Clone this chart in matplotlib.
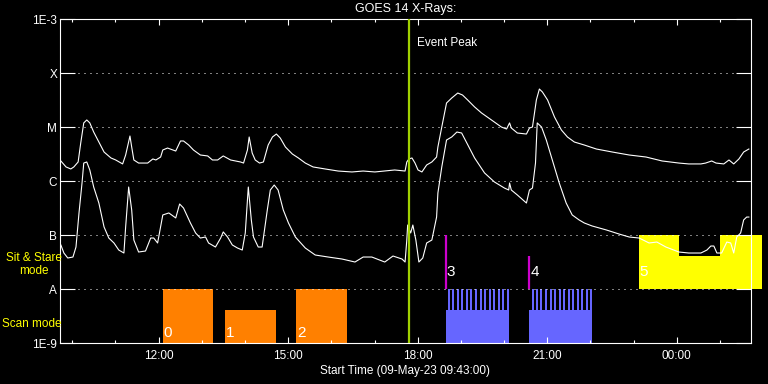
import matplotlib

matplotlib.use("Agg")
import matplotlib.dates as mdates
import matplotlib.pyplot as plt
import numpy as np
import pandas as pd
from matplotlib.ticker import FixedLocator, FixedFormatter, NullLocator

plt.rcParams["font.family"] = ["Liberation Sans", "DejaVu Sans"]

start_time = pd.Timestamp("2023-05-09 09:43:00")
span_hours = 16.0
event_peak = pd.Timestamp("2023-05-09 17:48:00")

# GOES 14 long channel (upper curve): hours after start, flux in W/m^2
long_hours = [0.02, 0.14, 0.25, 0.32, 0.42, 0.48, 0.55, 0.62, 0.69, 0.78, 0.90, 1.02,
              1.18, 1.29, 1.45, 1.52, 1.62, 1.66, 1.71, 1.82, 2.03, 2.15, 2.22, 2.33,
              2.38, 2.49, 2.68, 2.79, 2.86, 2.98, 3.09, 3.25, 3.42, 3.53, 3.65, 3.78,
              3.95, 4.18, 4.25, 4.34, 4.38, 4.45, 4.52, 4.62, 4.71, 4.82, 4.92, 5.01,
              5.10, 5.22, 5.38, 5.52, 5.68, 5.86, 6.14, 6.44, 6.76, 7.02, 7.29, 7.75,
              7.99, 8.03, 8.08, 8.15, 8.22, 8.29, 8.38, 8.49, 8.61, 8.72, 8.75, 8.84,
              8.95, 9.07, 9.21, 9.32, 9.44, 9.60, 9.76, 9.99, 10.22, 10.34, 10.41, 10.45,
              10.59, 10.80, 10.87, 10.94, 11.03, 11.10, 11.17, 11.29, 11.45, 11.61, 11.75,
              11.91, 12.14, 12.42, 12.79, 13.18, 13.57, 13.94, 14.33, 14.56, 14.84, 14.95,
              15.09, 15.19, 15.37, 15.49, 15.60, 15.72, 15.83, 15.95]
long_flux = [2.35e-6, 1.82e-6, 1.67e-6, 1.82e-6, 2.25e-6, 5.05e-6, 1.19e-5, 1.35e-5,
             1.19e-5, 8.07e-6, 5.27e-6, 3.44e-6, 2.67e-6, 2.45e-6, 2.07e-6, 3.03e-6,
             6.81e-6, 4.26e-6, 2.45e-6, 2.15e-6, 2.15e-6, 2.56e-6, 2.45e-6, 2.78e-6,
             3.75e-6, 4.08e-6, 3.59e-6, 5.51e-6, 5.51e-6, 4.64e-6, 3.75e-6, 3.03e-6,
             2.91e-6, 2.45e-6, 2.45e-6, 2.91e-6, 2.45e-6, 2.25e-6, 2.15e-6, 3.75e-6,
             6.53e-6, 3.30e-6, 2.45e-6, 2.15e-6, 2.25e-6, 4.64e-6, 6.53e-6, 7.41e-6,
             6.25e-6, 4.26e-6, 3.16e-6, 2.67e-6, 2.15e-6, 1.82e-6, 1.67e-6, 1.53e-6,
             1.47e-6, 1.53e-6, 1.47e-6, 1.60e-6, 1.53e-6, 2.25e-6, 2.56e-6, 2.67e-6,
             2.15e-6, 1.60e-6, 1.47e-6, 1.98e-6, 2.25e-6, 2.78e-6, 4.26e-6, 1.0e-5,
             2.78e-5, 3.44e-5, 4.26e-5, 3.91e-5, 3.16e-5, 2.35e-5, 1.82e-5, 1.35e-5,
             1.0e-5, 9.18e-6, 1.19e-5, 9.58e-6, 7.74e-6, 7.41e-6, 9.58e-6, 1.0e-5,
             3.16e-5, 5.05e-5, 4.45e-5, 3.16e-5, 1.53e-5, 8.79e-6, 6.53e-6, 5.27e-6,
             4.64e-6, 3.91e-6, 3.44e-6, 3.03e-6, 2.78e-6, 2.35e-6, 2.15e-6, 2.07e-6,
             2.07e-6, 2.15e-6, 2.35e-6, 2.15e-6, 2.07e-6, 2.45e-6, 2.07e-6, 2.56e-6,
             3.44e-6, 3.91e-6]

# GOES 14 short channel (lower curve)
short_hours = [0.02, 0.09, 0.18, 0.30, 0.37, 0.44, 0.51, 0.55, 0.62, 0.69, 0.78, 0.90,
               1.02, 1.13, 1.25, 1.36, 1.48, 1.52, 1.59, 1.66, 1.71, 1.82, 1.98, 2.10,
               2.17, 2.26, 2.38, 2.52, 2.68, 2.77, 2.86, 3.02, 3.14, 3.25, 3.37, 3.44,
               3.60, 3.72, 3.78, 3.88, 3.99, 4.11, 4.22, 4.29, 4.36, 4.43, 4.48, 4.59,
               4.68, 4.80, 4.87, 4.96, 5.05, 5.17, 5.29, 5.45, 5.68, 5.91, 6.21, 6.53,
               6.83, 7.02, 7.22, 7.52, 7.71, 7.92, 7.99, 8.03, 8.05, 8.12, 8.17, 8.24,
               8.31, 8.40, 8.49, 8.61, 8.72, 8.75, 8.84, 8.95, 9.07, 9.19, 9.30, 9.42,
               9.60, 9.83, 10.06, 10.29, 10.39, 10.41, 10.45, 10.59, 10.80, 10.87, 10.94,
               11.01, 11.05, 11.15, 11.26, 11.40, 11.56, 11.72, 11.86, 12.02, 12.14,
               12.32, 12.65, 12.95, 13.18, 13.41, 13.64, 13.82, 14.03, 14.33, 14.56,
               14.84, 14.98, 15.07, 15.14, 15.21, 15.32, 15.44, 15.53, 15.60, 15.67,
               15.76, 15.83, 15.90, 15.95]
short_flux = [6.53e-8, 4.64e-8, 3.75e-8, 3.91e-8, 5.99e-8, 2.56e-7, 9.18e-7, 2.15e-6,
              2.25e-6, 1.60e-6, 7.74e-7, 3.91e-7, 1.41e-7, 8.79e-8, 7.11e-8, 5.27e-8,
              4.64e-8, 1.41e-7, 7.74e-7, 2.91e-7, 8.07e-8, 4.84e-8, 5.05e-8, 8.79e-8,
              8.79e-8, 7.11e-8, 2.35e-7, 2.56e-7, 2.07e-7, 3.75e-7, 3.16e-7, 1.67e-7,
              1.09e-7, 8.79e-8, 9.18e-8, 7.11e-8, 5.99e-8, 8.79e-8, 1.14e-7, 9.18e-8,
              6.53e-8, 5.74e-8, 5.27e-8, 1.09e-7, 7.74e-7, 1.90e-7, 9.18e-8, 5.99e-8,
              5.99e-8, 2.91e-7, 6.81e-7, 8.43e-7, 6.81e-7, 2.91e-7, 1.67e-7, 9.18e-8,
              5.74e-8, 4.26e-8, 3.91e-8, 3.59e-8, 3.16e-8, 3.91e-8, 3.91e-8, 3.16e-8,
              4.08e-8, 3.59e-8, 3.16e-8, 8.07e-8, 1.53e-7, 1.09e-7, 1.53e-7, 8.07e-8,
              3.16e-8, 3.75e-8, 7.11e-8, 8.07e-8, 2.15e-7, 5.99e-7, 1.82e-6, 5.74e-6,
              6.53e-6, 8.07e-6, 7.74e-6, 5.05e-6, 2.67e-6, 1.41e-6, 9.58e-7, 7.41e-7,
              6.81e-7, 9.18e-7, 6.81e-7, 5.51e-7, 3.91e-7, 6.81e-7, 7.41e-7, 2.15e-6,
              1.19e-5, 1.0e-5, 5.74e-6, 2.45e-6, 9.18e-7, 3.91e-7, 2.35e-7, 1.90e-7,
              1.67e-7, 1.47e-7, 1.24e-7, 1.04e-7, 9.18e-8, 8.79e-8, 7.11e-8, 7.41e-8,
              5.99e-8, 4.84e-8, 4.64e-8, 4.64e-8, 5.27e-8, 6.25e-8, 6.25e-8, 4.64e-8,
              4.64e-8, 7.41e-8, 7.11e-8, 4.64e-8, 9.18e-8, 1.09e-7, 1.90e-7, 2.15e-7,
              2.15e-7]

# observations 0-2: plain scans
scan_start = [2.38, 3.83, 5.47]
scan_end = [3.55, 5.01, 6.65]
scan_top = [1e-8, 4.1e-9, 1e-8]

# observations 3-4: rasters with individual scan steps
raster_start = [8.93, 10.87]
raster_end = [10.39, 12.32]
raster_base_top = 4.1e-9
raster_steps = [8.98, 9.08, 9.19, 9.29, 9.40, 9.50, 9.61, 9.72, 9.82, 9.93, 10.03,
                10.14, 10.24, 10.35,
                10.92, 11.02, 11.12, 11.23, 11.34, 11.44, 11.55, 11.65, 11.76, 11.86,
                11.97, 12.07, 12.18, 12.28]
raster_step_len = 0.046
raster_marker_top = [1e-7, 4.1e-8]

# observation 5: sit & stare
stare_start = [13.41, 14.33, 15.28]
stare_end = [14.33, 15.28, 16.25]
stare_top = [1e-7, 4.1e-8, 1e-7]

obs_labels = ["0", "1", "2", "3", "4", "5"]
obs_label_hours = [2.38, 3.83, 5.47, 8.93, 10.87, 13.41]
obs_label_flux = [1.5e-9, 1.5e-9, 1.5e-9, 2.1e-8, 2.1e-8, 2.1e-8]

y_ticks = [1e-9, 1e-8, 1e-7, 1e-6, 1e-5, 1e-4, 1e-3]
y_labels = ["1E-9", "A", "B", "C", "M", "X", "1E-3"]

ORANGE = "#ff8000"
BLUE = "#6666ff"
MAGENTA = "#cc00cc"
YELLOW = "#ffff00"
GREEN = "#a0d000"

t0 = mdates.date2num(start_time.to_pydatetime())


def hx(h):
    return t0 + np.asarray(h, dtype=float) / 24.0


fig = plt.figure(figsize=(7.68, 3.84), dpi=100, facecolor="black")
ax = fig.add_axes([60 / 768, 41 / 384, 691 / 768, 324 / 384])
ax.set_facecolor("black")
ax.xaxis_date()
ax.set_yscale("log")
ax.set_ylim(1e-9, 1e-3)
ax.set_xlim(hx(0), hx(span_hours))

# observation blocks
ax.bar(hx(scan_start), np.array(scan_top) - 1e-9, width=(np.array(scan_end) - np.array(scan_start)) / 24,
       bottom=1e-9, align="edge", color=ORANGE, linewidth=0, zorder=1.5)
ax.bar(hx(raster_start), raster_base_top - 1e-9,
       width=(np.array(raster_end) - np.array(raster_start)) / 24,
       bottom=1e-9, align="edge", color=BLUE, linewidth=0, zorder=1.5)
ax.bar(hx(raster_steps), 1e-8 - 1e-9, width=raster_step_len / 24, bottom=1e-9,
       align="edge", color=BLUE, linewidth=0, zorder=1.5)
ax.vlines(hx(raster_start), 1e-8, raster_marker_top, colors=MAGENTA, linewidth=1.6, zorder=1.6)
ax.bar(hx(stare_start), np.array(stare_top) - 1e-8,
       width=(np.array(stare_end) - np.array(stare_start)) / 24,
       bottom=1e-8, align="edge", color=YELLOW, linewidth=0, zorder=1.5, clip_on=False)

for lab, h, f in zip(obs_labels, obs_label_hours, obs_label_flux):
    ax.annotate(lab, xy=(hx(h), f), xytext=(0.5, 0), textcoords="offset points",
                color="white", fontsize=11, ha="left", va="center", zorder=3)

# X-ray curves
ax.plot(hx(long_hours), long_flux, color="white", linewidth=0.8, zorder=3)
ax.plot(hx(short_hours), short_flux, color="white", linewidth=0.8, zorder=3)

ax.axvline(mdates.date2num(event_peak.to_pydatetime()), color=GREEN, linewidth=1.6, zorder=4)
ax.annotate("Event Peak", xy=(mdates.date2num(event_peak.to_pydatetime()), 3.6e-4),
            xytext=(6, 0), textcoords="offset points", color="white", fontsize=8.5,
            va="center", ha="left")

# axes styling
ax.yaxis.set_major_locator(FixedLocator(y_ticks))
ax.yaxis.set_major_formatter(FixedFormatter(y_labels))
ax.yaxis.set_minor_locator(NullLocator())
ax.xaxis.set_major_locator(mdates.HourLocator(byhour=range(0, 24, 3)))
ax.xaxis.set_minor_locator(mdates.HourLocator())
ax.xaxis.set_major_formatter(mdates.DateFormatter("%H:%M"))

ax.tick_params(axis="y", which="major", direction="in", length=10.8, width=0.8,
               left=True, right=True, colors="white", labelsize=8.5, pad=2)
ax.tick_params(axis="x", which="major", direction="in", length=4.5, width=0.8,
               top=True, bottom=True, colors="white", labelsize=8.5, pad=5)
ax.tick_params(axis="x", which="minor", direction="in", length=2.2, width=0.8,
               top=True, bottom=True, colors="white")
ax.yaxis.grid(True, which="major", color="white", linewidth=0.72, linestyle=(0, (1, 5)))
for s in ax.spines.values():
    s.set_color("white")
    s.set_linewidth(0.8)

ax.set_xlabel("Start Time (09-May-23 09:43:00)", color="white", fontsize=8.5, labelpad=2)
fig.text(405.5 / 768, 1 - 9 / 384, "GOES 14 X-Rays:", color="white", fontsize=9,
         ha="center", va="center")
fig.text(34 / 768, 1 - 264.5 / 384, "Sit & Stare\nmode", color=YELLOW, fontsize=8.5,
         ha="center", va="center", multialignment="center", linespacing=1.15)
fig.text(2 / 768, 1 - 324 / 384, "Scan mode", color=YELLOW, fontsize=8.5,
         ha="left", va="center")

fig.savefig("out.png", dpi=100, facecolor="black")
